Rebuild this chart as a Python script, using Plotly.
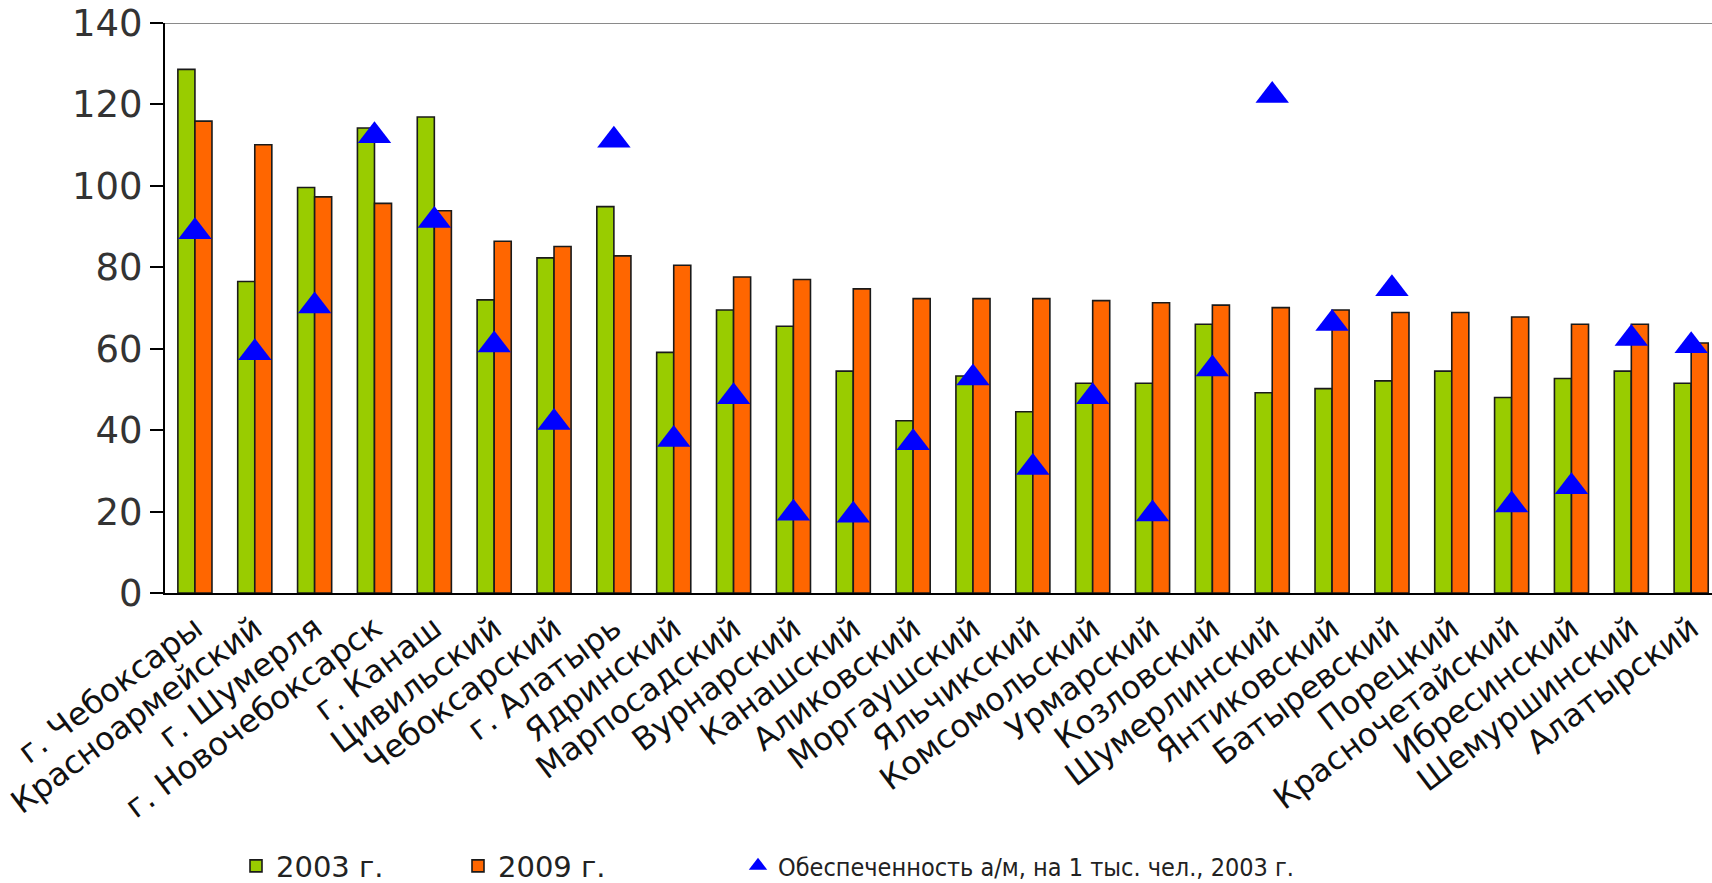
import plotly.graph_objects as go

categories = ["г. Чебоксары", "Красноармейский", "г. Шумерля", "г. Новочебоксарск", "г. Канаш",
              "Цивильский", "Чебоксарский", "г. Алатырь", "Ядринский", "Марпосадский",
              "Вурнарский", "Канашский", "Аликовский", "Моргаушский", "Яльчикский",
              "Комсомольский", "Урмарский", "Козловский", "Шумерлинский", "Янтиковский",
              "Батыревский", "Порецкий", "Красночетайский", "Ибресинский", "Шемуршинский",
              "Алатырский"]

values_2003 = [128.6, 76.5, 99.6, 114.2, 116.9, 72.0, 82.3, 94.9, 59.1, 69.5,
               65.5, 54.5, 42.3, 53.3, 44.5, 51.5, 51.5, 66.0, 49.2, 50.2,
               52.1, 54.5, 48.0, 52.7, 54.5, 51.5]

values_2009 = [115.9, 110.1, 97.3, 95.7, 93.9, 86.4, 85.1, 82.8, 80.5, 77.6,
               77.0, 74.7, 72.3, 72.3, 72.3, 71.8, 71.3, 70.7, 70.1, 69.5,
               68.9, 68.9, 67.8, 66.0, 66.0, 61.4]

cars_per_1000_2003 = [88.7, 59.0, 70.5, 112.3, 91.5, 60.9, 41.9, 111.2, 37.7, 48.2,
                      19.6, 19.1, 36.9, 52.8, 30.8, 48.2, 19.4, 55.0, 122.2, 66.2,
                      74.7, None, 21.6, 26.1, 62.5, 60.7]

y_ticks = [0, 20, 40, 60, 80, 100, 120, 140]

FONT = "DejaVu Sans"
NARROW = "DejaVu Sans Condensed, Liberation Sans Narrow, Liberation Sans, sans-serif"

W, H = 1712, 883
ML, MT = 165, 23
PLOT_BOTTOM = 593
MB = H - PLOT_BOTTOM

fig = go.Figure()
fig.add_trace(go.Bar(
    x=categories, y=values_2003, name="2003 г.", legend="legend",
    marker=dict(color="#99CC00", line=dict(color="#1a1a1a", width=1.6)),
))
fig.add_trace(go.Bar(
    x=categories, y=values_2009, name="2009 г.", legend="legend2",
    marker=dict(color="#FF6600", line=dict(color="#1a1a1a", width=1.6)),
))
fig.add_trace(go.Scatter(
    x=categories, y=cars_per_1000_2003, mode="markers", legend="legend3",
    name="Обеспеченность а/м, на 1 тыс. чел., 2003 г.",
    marker=dict(symbol="triangle-up", size=29, color="#0000FF", line=dict(width=0)),
    cliponaxis=False,
))

plot_w = W - ML
plot_h = PLOT_BOTTOM - MT


def px_to_paper_x(px):
    return (px - ML) / plot_w


def px_to_paper_y(py):
    return (PLOT_BOTTOM - py) / plot_h


legend_y = px_to_paper_y(866)
common_leg = dict(orientation="h", yanchor="middle", xanchor="left",
                  bgcolor="rgba(0,0,0,0)", borderwidth=0, itemsizing="trace",
                  traceorder="normal")

fig.update_layout(
    width=W, height=H,
    margin=dict(l=ML, r=0, t=MT, b=MB, autoexpand=False),
    paper_bgcolor="white", plot_bgcolor="white",
    barmode="group", bargap=0.43, bargroupgap=0.0,
    font=dict(family=FONT, color="#222222"),
    showlegend=True,
    legend=dict(x=px_to_paper_x(236), y=legend_y,
                font=dict(family=FONT, size=29, color="#222222"), **common_leg),
    legend2=dict(x=px_to_paper_x(458), y=legend_y,
                 font=dict(family=FONT, size=29, color="#222222"), **common_leg),
    legend3=dict(x=px_to_paper_x(738), y=legend_y,
                 font=dict(family=NARROW, size=25, color="#222222"), **common_leg),
    xaxis=dict(
        type="category", range=[-0.5, -0.5 + plot_w / 59.85],
        showline=True, linecolor="black", linewidth=2,
        ticks="", showgrid=False, zeroline=False,
        tickangle=-37, tickfont=dict(family=FONT, size=32, color="#111111"),
        automargin=False, ticklabelstandoff=2,
    ),
    yaxis=dict(
        range=[0, 140], tickvals=y_ticks,
        showline=True, linecolor="black", linewidth=2,
        ticks="outside", ticklen=13, tickwidth=2, tickcolor="black",
        showgrid=False, zeroline=False,
        tickfont=dict(family=FONT, size=37, color="#333333"),
        automargin=False, ticklabelstandoff=0, ticklabeloverflow="allow",
    ),
    shapes=[dict(type="line", xref="paper", yref="y", x0=0, x1=1, y0=140, y1=140,
                 line=dict(color="#8a8a8a", width=2))],
)

fig.write_html("out.html",
               config={"displayModeBar": False},
               post_script="document.body.style.margin='0';document.body.style.overflow='hidden';")
